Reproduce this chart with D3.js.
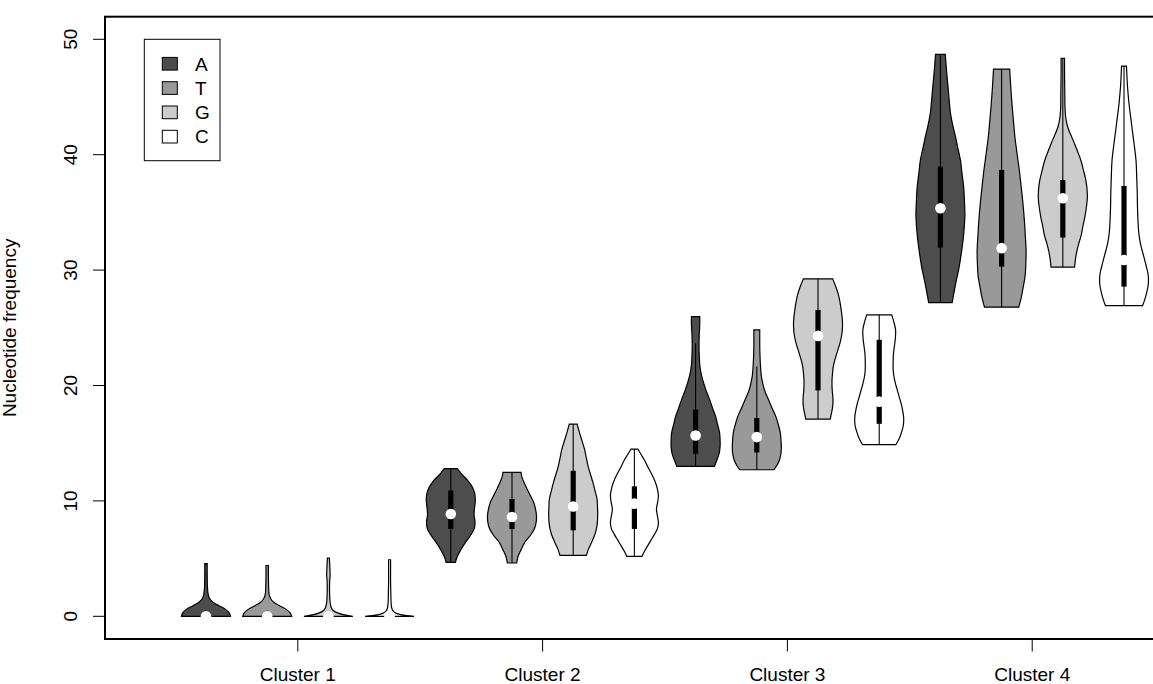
<!DOCTYPE html>
<html>
<meta charset="utf-8" />
<style>
  body { margin: 0; background: #fff; }
  text { font-family: "Liberation Sans", Arial, sans-serif; fill: #000; }
</style>
<body>
<script src="https://d3js.org/d3.v7.min.js"></script>
<script>
  let width = 1153,
    height = 684;

  // categories
  let clusters = ["Cluster 1", "Cluster 2", "Cluster 3", "Cluster 4"];
  let bases = ["A", "T", "G", "C"];
  let baseFills = ["#4d4d4d", "#999999", "#cccccc", "#ffffff"];
  let yTicks = [0, 10, 20, 30, 40, 50];

  // violin outlines: [value, relative density], one per cluster x base (A,T,G,C)
  let profiles = [
    // Cluster 1
    [[0, 1.0], [0.3, 0.95], [0.6, 0.8], [0.9, 0.55], [1.2, 0.3], [1.5, 0.16], [1.9, 0.09], [2.5, 0.06], [3.5, 0.05], [4.56, 0.05]],
    [[0, 1.0], [0.3, 0.94], [0.6, 0.78], [0.9, 0.52], [1.2, 0.28], [1.5, 0.15], [1.9, 0.08], [2.5, 0.06], [3.5, 0.05], [4.4, 0.05]],
    [[0, 1.0], [0.15, 0.6], [0.3, 0.37], [0.5, 0.2], [0.75, 0.12], [1.2, 0.07], [2.0, 0.05], [3.0, 0.05], [3.6, 0.07], [4.2, 0.06], [5.05, 0.04]],
    [[0, 1.0], [0.12, 0.5], [0.25, 0.28], [0.45, 0.15], [0.7, 0.09], [1.2, 0.06], [2.0, 0.05], [3.0, 0.04], [4.0, 0.04], [4.9, 0.04]],
    // Cluster 2
    [[4.68, 0.19], [5.2, 0.27], [5.8, 0.42], [6.4, 0.6], [7.0, 0.8], [7.6, 0.96], [8.2, 0.99], [8.8, 0.95], [9.4, 0.97], [10.0, 1.0], [10.6, 0.98], [11.2, 0.88], [11.8, 0.68], [12.3, 0.45], [12.79, 0.27]],
    [[4.62, 0.19], [5.2, 0.25], [5.8, 0.38], [6.4, 0.52], [7.0, 0.75], [7.6, 0.92], [8.2, 0.99], [8.7, 1.0], [9.3, 0.96], [9.9, 0.88], [10.5, 0.74], [11.1, 0.6], [11.7, 0.47], [12.1, 0.4], [12.47, 0.37]],
    [[5.28, 0.54], [5.8, 0.62], [6.4, 0.75], [7.0, 0.87], [7.6, 0.95], [8.2, 0.99], [8.9, 1.0], [9.6, 0.99], [10.2, 0.97], [10.8, 0.9], [11.5, 0.82], [12.2, 0.72], [13.0, 0.61], [13.8, 0.53], [14.5, 0.46], [15.2, 0.36], [15.9, 0.26], [16.66, 0.16]],
    [[5.2, 0.31], [5.6, 0.4], [6.1, 0.54], [6.6, 0.68], [7.1, 0.82], [7.6, 0.94], [8.1, 0.98], [8.7, 0.94], [9.3, 0.9], [9.9, 0.95], [10.5, 0.98], [11.1, 0.93], [11.7, 0.84], [12.3, 0.71], [12.9, 0.56], [13.5, 0.42], [14.0, 0.28], [14.49, 0.14]],
    // Cluster 3
    [[12.99, 0.77], [13.5, 0.86], [14.1, 0.96], [14.7, 1.0], [15.3, 1.0], [15.9, 0.98], [16.6, 0.9], [17.3, 0.82], [18.0, 0.7], [18.8, 0.57], [19.5, 0.44], [20.2, 0.33], [20.9, 0.24], [21.6, 0.18], [22.5, 0.15], [23.5, 0.14], [24.5, 0.15], [25.3, 0.17], [25.97, 0.17]],
    [[12.7, 0.7], [13.3, 0.88], [13.9, 0.97], [14.5, 1.0], [15.2, 0.99], [15.9, 0.96], [16.6, 0.88], [17.3, 0.78], [18.0, 0.63], [18.8, 0.47], [19.5, 0.33], [20.2, 0.24], [20.9, 0.18], [21.7, 0.15], [22.6, 0.13], [23.5, 0.12], [24.2, 0.12], [24.82, 0.12]],
    [[17.09, 0.5], [17.6, 0.55], [18.2, 0.6], [18.9, 0.61], [19.6, 0.58], [20.3, 0.57], [21.0, 0.59], [21.7, 0.63], [22.3, 0.7], [23.0, 0.8], [23.7, 0.9], [24.4, 0.97], [25.1, 1.0], [25.8, 0.99], [26.5, 0.95], [27.2, 0.9], [27.9, 0.83], [28.6, 0.72], [29.24, 0.6]],
    [[14.87, 0.68], [15.4, 0.82], [16.0, 0.92], [16.6, 0.99], [17.2, 1.0], [17.8, 0.96], [18.4, 0.9], [19.0, 0.82], [19.6, 0.74], [20.2, 0.66], [20.8, 0.6], [21.4, 0.57], [22.0, 0.57], [22.7, 0.58], [23.4, 0.62], [24.1, 0.66], [24.8, 0.67], [25.5, 0.6], [26.12, 0.51]],
    // Cluster 4
    [[27.19, 0.48], [28.0, 0.55], [29.1, 0.65], [30.2, 0.76], [31.4, 0.85], [32.5, 0.92], [33.6, 0.97], [34.8, 1.0], [36.0, 0.98], [37.2, 0.95], [38.4, 0.88], [39.5, 0.82], [40.6, 0.71], [41.6, 0.61], [42.6, 0.5], [43.6, 0.41], [44.7, 0.36], [45.9, 0.31], [47.3, 0.25], [48.69, 0.2]],
    [[26.79, 0.7], [27.6, 0.8], [28.5, 0.88], [29.5, 0.96], [30.6, 0.99], [31.7, 1.0], [32.9, 0.97], [34.3, 0.93], [35.8, 0.87], [37.2, 0.8], [38.7, 0.72], [40.1, 0.63], [41.6, 0.54], [43.0, 0.48], [44.5, 0.42], [46.0, 0.37], [47.42, 0.33]],
    [[30.25, 0.48], [31.0, 0.52], [31.6, 0.57], [32.3, 0.65], [33.0, 0.75], [33.8, 0.82], [34.6, 0.9], [35.4, 0.96], [36.2, 1.0], [37.0, 0.99], [37.8, 0.94], [38.6, 0.85], [39.5, 0.74], [40.3, 0.6], [41.0, 0.47], [41.7, 0.33], [42.4, 0.2], [43.2, 0.12], [44.0, 0.09], [45.5, 0.08], [47.0, 0.07], [48.34, 0.07]],
    [[26.93, 0.76], [27.4, 0.84], [28.0, 0.92], [28.6, 0.98], [29.2, 1.0], [29.8, 0.97], [30.4, 0.9], [31.0, 0.83], [31.7, 0.74], [32.4, 0.66], [33.3, 0.6], [34.3, 0.57], [35.5, 0.55], [36.7, 0.54], [38.0, 0.52], [39.5, 0.49], [40.8, 0.42], [42.1, 0.34], [43.3, 0.27], [44.5, 0.2], [46.0, 0.14], [47.68, 0.1]]
  ];

  // box statistics per violin
  let q1 = [0, 0, 0, 0, 7.57, 7.57, 7.45, 7.57, 14.09, 14.2, 19.57, 16.68, 31.95, 30.3, 32.82, 28.57];
  let medians = [0, 0, 0, 0, 8.87, 8.6, 9.52, 9.76, 15.67, 15.53, 24.3, 18.6, 35.36, 31.9, 36.22, 30.88];
  let q3 = [0.2, 0.2, 0.1, 0.05, 10.9, 10.16, 12.61, 11.26, 17.9, 17.18, 26.55, 23.96, 38.96, 38.68, 37.81, 37.29];
  let lowerW = [0, 0, 0, 0, 4.68, 4.62, 5.28, 5.2, 12.99, 12.7, 17.09, 14.87, 27.19, 26.79, 30.25, 26.93];
  let upperW = [0.5, 0.5, 0.25, 0.12, 12.79, 12.47, 16.66, 14.49, 23.67, 21.65, 29.24, 26.12, 48.69, 47.42, 48.34, 47.68];

  let svg = d3
    .select("body")
    .append("svg")
    .attr("width", width)
    .attr("height", height);

  svg.append("rect").attr("width", width).attr("height", height).attr("fill", "#fff");

  let x = d3.scaleLinear().domain([-0.65, 17.65]).range([105, 1225]);
  let y = d3.scaleLinear().domain([0, 50]).range([616.3, 39.3]);
  let hw = d3.scaleLinear().domain([0, 1]).range([0, x(0.4) - x(0)]);

  let violins = profiles.map((p, i) => ({
    pos: i + 1,
    fill: baseFills[i % 4],
    profile: p,
    q1: q1[i],
    med: medians[i],
    q3: q3[i],
    lo: lowerW[i],
    hi: upperW[i],
  }));

  let g = svg.append("g");

  violins.forEach((v) => {
    let area = d3
      .area()
      .curve(d3.curveCatmullRom)
      .y((d) => y(d[0]))
      .x0((d) => x(v.pos) - hw(d[1]))
      .x1((d) => x(v.pos) + hw(d[1]));

    g.append("path")
      .attr("d", area(v.profile))
      .attr("fill", v.fill)
      .attr("stroke", "#000")
      .attr("stroke-width", 1.2);

    g.append("line")
      .attr("x1", x(v.pos))
      .attr("x2", x(v.pos))
      .attr("y1", y(v.lo))
      .attr("y2", y(v.hi))
      .attr("stroke", "#000")
      .attr("stroke-width", 1.1);

    g.append("rect")
      .attr("x", x(v.pos) - 2.6)
      .attr("width", 5.2)
      .attr("y", y(v.q3))
      .attr("height", y(v.q1) - y(v.q3))
      .attr("fill", "#000");

    g.append("circle")
      .attr("cx", x(v.pos))
      .attr("cy", y(v.med))
      .attr("r", 5.3)
      .attr("fill", "#fff");
  });

  // plot frame
  svg
    .append("rect")
    .attr("x", x.range()[0])
    .attr("y", 16.7)
    .attr("width", x.range()[1] - x.range()[0])
    .attr("height", 639 - 16.7)
    .attr("fill", "none")
    .attr("stroke", "#000")
    .attr("stroke-width", 2);

  // y axis
  let yAxis = svg.append("g");
  yTicks.forEach((t) => {
    yAxis
      .append("line")
      .attr("x1", x.range()[0] - 12)
      .attr("x2", x.range()[0])
      .attr("y1", y(t))
      .attr("y2", y(t))
      .attr("stroke", "#000")
      .attr("stroke-width", 1);
    yAxis
      .append("text")
      .attr("transform", "translate(76.8," + y(t) + ") rotate(-90)")
      .attr("text-anchor", "middle")
      .style("font-size", "19px")
      .text(t);
  });

  svg
    .append("text")
    .attr("transform", "translate(15.6," + (16.7 + 639) / 2 + ") rotate(-90)")
    .attr("text-anchor", "middle")
    .style("font-size", "19px")
    .text("Nucleotide frequency");

  // x axis
  clusters.forEach((c, i) => {
    let cx = x(i * 4 + 2.5);
    svg
      .append("line")
      .attr("x1", cx)
      .attr("x2", cx)
      .attr("y1", 639)
      .attr("y2", 651.5)
      .attr("stroke", "#000")
      .attr("stroke-width", 1);
    svg
      .append("text")
      .attr("x", cx)
      .attr("y", 680.6)
      .attr("text-anchor", "middle")
      .style("font-size", "19px")
      .text(c);
  });

  // legend
  let legend = svg.append("g");
  legend
    .append("rect")
    .attr("x", 144.3)
    .attr("y", 39.3)
    .attr("width", 75.7)
    .attr("height", 121.4)
    .attr("fill", "#fff")
    .attr("stroke", "#000")
    .attr("stroke-width", 1);

  bases.forEach((b, i) => {
    let cy = 63.7 + i * 24.3;
    legend
      .append("rect")
      .attr("x", 162.3)
      .attr("y", cy - 6.3)
      .attr("width", 15)
      .attr("height", 12.7)
      .attr("fill", baseFills[i])
      .attr("stroke", "#000")
      .attr("stroke-width", 1);
    legend
      .append("text")
      .attr("x", 195)
      .attr("y", cy + 6.8)
      .style("font-size", "19px")
      .text(b);
  });
</script>
</body>
</html>
